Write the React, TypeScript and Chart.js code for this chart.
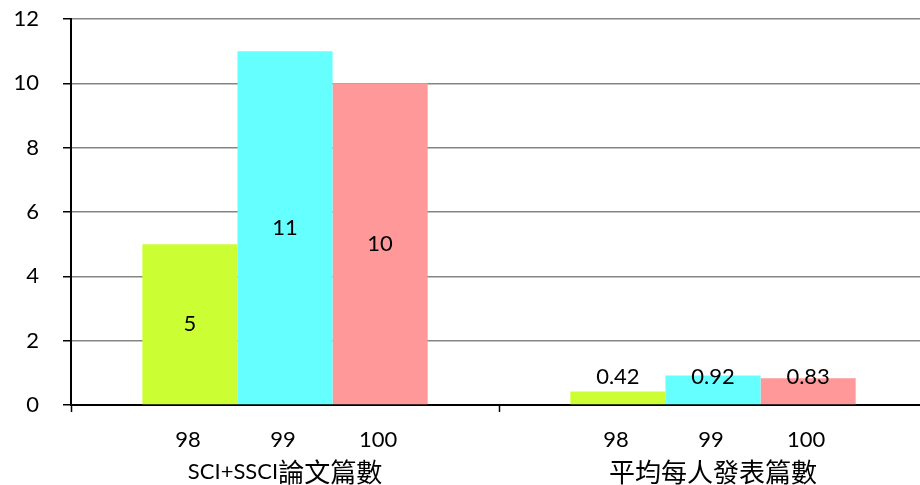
import React, { useEffect, useRef } from "react";
import { Chart, registerables } from "chart.js";

Chart.register(...registerables);

// ---- data ----
const groups = ["SCI+SSCI論文篇數", "平均每人發表篇數"];
const years = ["98", "99", "100"];
const values98 = [5, 0.42];
const values99 = [11, 0.92];
const values100 = [10, 0.83];
const barColors = ["#CCFF33", "#66FFFF", "#FF9999"];
const yMin = 0;
const yMax = 12;
const yStep = 2;

const LATIN_FONT = "22px Lato";
const CJK_FONT = "26px 'Noto Sans CJK TC'";

function drawMixed(ctx: CanvasRenderingContext2D, text: string, cx: number, y: number) {
  const runs = text.match(/[\u3000-\u9fff\uff00-\uffef]+|[^\u3000-\u9fff\uff00-\uffef]+/g) || [];
  const parts = runs.map((r) => {
    const cjk = /[\u3000-\u9fff\uff00-\uffef]/.test(r);
    ctx.font = cjk ? CJK_FONT : LATIN_FONT;
    return { r, font: cjk ? CJK_FONT : LATIN_FONT, w: ctx.measureText(r).width };
  });
  const total = parts.reduce((s, p) => s + p.w, 0);
  let x = cx - total / 2;
  ctx.textAlign = "left";
  ctx.textBaseline = "middle";
  parts.forEach((p) => {
    ctx.font = p.font;
    ctx.fillText(p.r, x, y);
    x += p.w;
  });
}

const labelPlugin = {
  id: "customLabels",
  afterDatasetsDraw(chart: any) {
    const ctx: CanvasRenderingContext2D = chart.ctx;
    const area = chart.chartArea;
    ctx.save();
    ctx.fillStyle = "#000";
    chart.data.datasets.forEach((ds: any, di: number) => {
      const meta = chart.getDatasetMeta(di);
      meta.data.forEach((bar: any, i: number) => {
        const { x, y, base } = bar.getProps(["x", "y", "base"], true);
        const center = (y + base) / 2;
        const ly = Math.min(center, base - 27);
        ctx.font = LATIN_FONT;
        ctx.textAlign = "center";
        ctx.textBaseline = "middle";
        ctx.fillText(String(ds.data[i]), x, ly);
        ctx.fillText(ds.label, x - 2, area.bottom + 35);
      });
    });
    const xs = chart.scales.x;
    groups.forEach((g, i) => drawMixed(ctx, g, xs.getPixelForValue(i), area.bottom + 67));
    ctx.restore();
  },
};

export default function App() {
  const ref = useRef<HTMLCanvasElement | null>(null);

  useEffect(() => {
    document.body.style.overflow = "hidden";
    const canvas = ref.current;
    if (!canvas) return;
    const seriesValues = [values98, values99, values100];
    const chart = new Chart(canvas, {
      type: "bar",
      data: {
        labels: groups,
        datasets: years.map((yr, i) => ({
          label: yr,
          data: seriesValues[i],
          backgroundColor: barColors[i],
          borderWidth: 0,
          categoryPercentage: 2 / 3,
          barPercentage: 1,
        })),
      },
      options: {
        animation: false,
        responsive: false,
        devicePixelRatio: 1,
        layout: { padding: { left: 0, right: 3, top: 19, bottom: 0 } },
        plugins: {
          legend: { display: false },
          tooltip: { enabled: false },
        },
        scales: {
          x: {
            type: "category",
            offset: true,
            grid: {
              offset: true,
              drawOnChartArea: false,
              drawTicks: true,
              tickLength: 7,
              tickColor: "#000",
              tickWidth: 1.5,
            },
            border: { display: true, color: "#000", width: 2 },
            ticks: { display: false },
            afterFit: (scale: any) => {
              scale.height = 80;
              scale.paddingLeft = 0;
              scale.paddingRight = 0;
            },
          },
          y: {
            min: yMin,
            max: yMax,
            ticks: {
              stepSize: yStep,
              color: "#000",
              font: { family: "Lato", size: 22 },
              padding: 24,
            },
            grid: {
              color: "#858585",
              lineWidth: 1.5,
              tickColor: "#000",
              tickLength: 8,
              tickWidth: 1.5,
            },
            border: { display: true, color: "#000", width: 2 },
            afterFit: (scale: any) => {
              scale.width = 71;
              scale.paddingTop = 0;
              scale.paddingBottom = 0;
            },
          },
        },
      },
      plugins: [labelPlugin],
    } as any);
    return () => chart.destroy();
  }, []);

  return (
    <div style={{ position: "fixed", left: 0, top: 0, width: 930, height: 485, background: "#fff" }}>
      <canvas ref={ref} width={930} height={485} style={{ display: "block" }} />
    </div>
  );
}
